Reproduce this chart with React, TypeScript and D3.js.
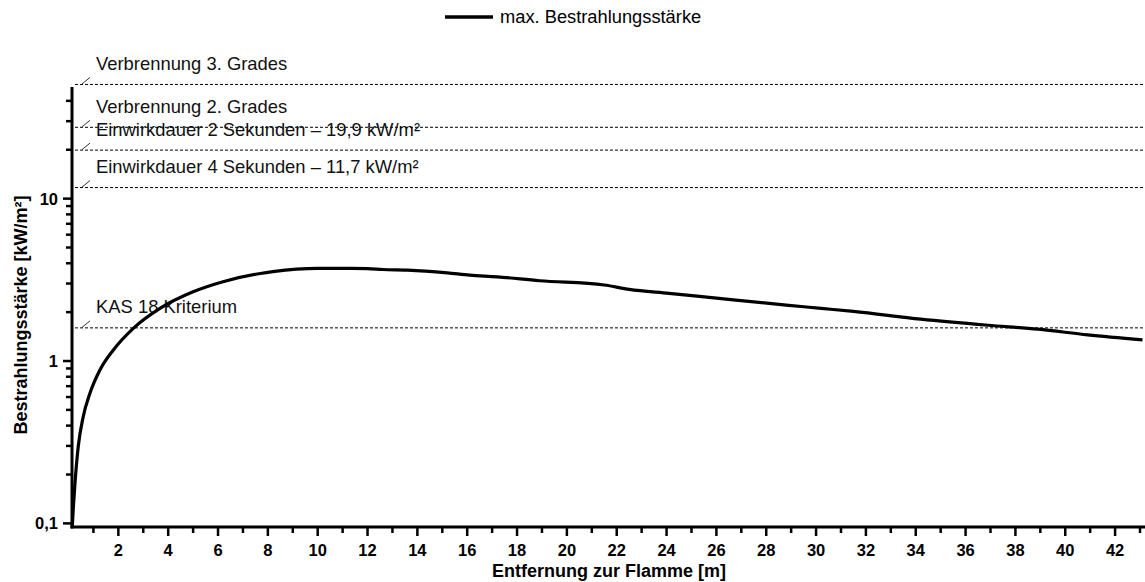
import React from 'react';
import * as d3 from 'd3';

// distance to the flame [m]
const distances = [
  0.15, 0.2, 0.26, 0.39, 0.59, 0.86, 1.26, 1.8, 2.6, 3.67, 5, 6.2, 7.7, 8.2, 10, 12,
  12.6, 13.6, 15.2, 16.1, 17.2, 18.9, 21.5, 22.5, 24.1, 26.1, 28.8, 30.2, 31.5, 34.2,
  36.9, 38.9, 40.9, 43.1,
];
// max. irradiance [kW/m²]
const irradiance = [
  0.095, 0.13, 0.177, 0.297, 0.454, 0.633, 0.88, 1.17, 1.59, 2.11, 2.67, 3.08, 3.46, 3.55,
  3.72, 3.71, 3.66, 3.63, 3.49, 3.38, 3.3, 3.12, 2.94, 2.76, 2.61, 2.43, 2.21, 2.11, 2.02,
  1.81, 1.66, 1.57, 1.45, 1.35,
];

const refLabels = [
  'Verbrennung 3. Grades',
  'Verbrennung 2. Grades',
  'Einwirkdauer 2 Sekunden – 19,9 kW/m²',
  'Einwirkdauer 4 Sekunden – 11,7 kW/m²',
  'KAS 18 Kriterium',
];
const refValues = [50.5, 27.5, 19.9, 11.7, 1.6];

const yMajorTicks = [0.1, 1, 10];
const yTickLabels = ['0,1', '1', '10'];
const yMinorTicks = [0.2, 0.3, 0.4, 0.5, 0.6, 0.7, 0.8, 0.9, 2, 3, 4, 5, 6, 7, 8, 9, 20, 30, 40];
const xMajorTicks = d3.range(2, 43, 2);
const xMinorTicks = d3.range(1, 44, 2);

const W = 1145;
const H = 582;
const font = '"Liberation Sans", Arial, sans-serif';

export default function App() {
  const left = 72;
  const right = 1145;
  const top = 87;
  const bottom = 527;

  const x = d3.scaleLinear().domain([0.14, 43.2]).range([left, right]);
  const y = d3.scaleLog().domain([0.095, 48.7]).range([bottom, top]);

  const line = d3
    .line<number>()
    .x((_, i) => x(distances[i]))
    .y(d => y(d))
    .curve(d3.curveMonotoneX);

  return (
    <svg width={W} height={H} style={{ position: 'absolute', left: 0, top: 0, background: '#fff' }}>
      {/* legend */}
      <line x1={445} x2={493} y1={17} y2={17} stroke="#000" strokeWidth={3.5} />
      <text x={500} y={23} fontFamily={font} fontSize={18.3} fill="#000">
        max. Bestrahlungsstärke
      </text>

      {/* reference lines */}
      {refValues.map((v, i) => {
        const yy = y(v);
        return (
          <g key={i}>
            <line x1={75} x2={W} y1={yy} y2={yy} stroke="#000" strokeWidth={1} strokeDasharray="3,2" />
            <line x1={82} x2={90} y1={yy - 0.5} y2={yy - 7} stroke="#000" strokeWidth={0.8} />
            <text x={96} y={yy - 14.5} fontFamily={font} fontSize={18.4} fill="#111">
              {refLabels[i]}
            </text>
          </g>
        );
      })}

      {/* curve */}
      <path d={line(irradiance) || ''} fill="none" stroke="#000" strokeWidth={3.2} strokeLinejoin="round" />

      {/* y axis */}
      <line x1={left} x2={left} y1={top} y2={bottom + 1.5} stroke="#000" strokeWidth={3} />
      {yMajorTicks.map((t, i) => (
        <g key={'ym' + i}>
          <line x1={left - 9} x2={left} y1={y(t)} y2={y(t)} stroke="#000" strokeWidth={2.5} />
          <text
            x={left - 14}
            y={y(t) + 6}
            textAnchor="end"
            fontFamily={font}
            fontWeight="bold"
            fontSize={16.5}
          >
            {yTickLabels[i]}
          </text>
        </g>
      ))}
      {yMinorTicks.map((t, i) => (
        <line key={'yn' + i} x1={left - 6} x2={left} y1={y(t)} y2={y(t)} stroke="#000" strokeWidth={2.5} />
      ))}

      {/* x axis */}
      <line x1={left - 1.5} x2={right} y1={bottom} y2={bottom} stroke="#000" strokeWidth={3} />
      {xMajorTicks.map(t => (
        <g key={'xm' + t}>
          <line x1={x(t)} x2={x(t)} y1={bottom} y2={bottom + 9} stroke="#000" strokeWidth={2.5} />
          <text x={x(t)} y={556} textAnchor="middle" fontFamily={font} fontWeight="bold" fontSize={16.5}>
            {t}
          </text>
        </g>
      ))}
      {xMinorTicks.map(t => (
        <line key={'xn' + t} x1={x(t)} x2={x(t)} y1={bottom} y2={bottom + 6} stroke="#000" strokeWidth={2.5} />
      ))}

      {/* axis titles */}
      <text
        x={609}
        y={577}
        textAnchor="middle"
        fontFamily={font}
        fontWeight="bold"
        fontSize={18}
      >
        Entfernung zur Flamme [m]
      </text>
      <text
        transform={`translate(27, ${(top + bottom) / 2 + 8}) rotate(-90)`}
        textAnchor="middle"
        fontFamily={font}
        fontWeight="bold"
        fontSize={18}
      >
        Bestrahlungsstärke [kW/m²]
      </text>
    </svg>
  );
}
